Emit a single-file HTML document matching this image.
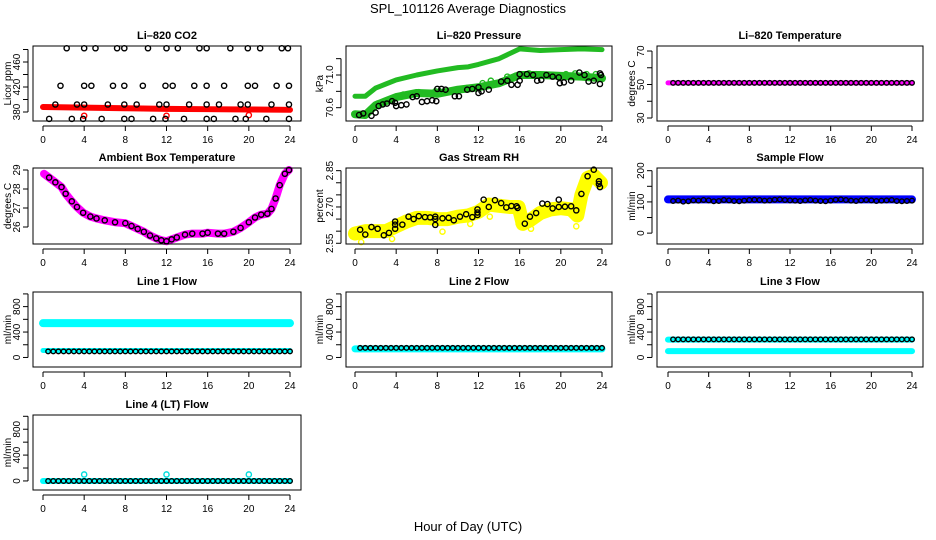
<!DOCTYPE html>
<html><head><meta charset="utf-8"><title>SPL_101126 Average Diagnostics</title>
<style>
html,body{margin:0;padding:0;background:#fff;}
svg{display:block;font-family:"Liberation Sans",Arial,sans-serif;}
</style></head>
<body>
<svg id="chart" width="936" height="540" viewBox="0 0 936 540">
<rect x="0" y="0" width="936" height="540" fill="#fff"/>
<text x="468" y="13" text-anchor="middle" font-size="13">SPL_101126  Average Diagnostics</text>
<text x="468" y="531" text-anchor="middle" font-size="13">Hour of Day (UTC)</text>
</svg>
<script>
// ---------- data ----------
const HRS = [0.5,1,1.5,2,2.5,3,3.5,4,4.5,5,5.5,6,6.5,7,7.5,8,8.5,9,9.5,10,10.5,11,11.5,12,12.5,13,13.5,14,14.5,15,15.5,16,16.5,17,17.5,18,18.5,19,19.5,20,20.5,21,21.5,22,22.5,23,23.5,24];
const xTicks = [0,4,8,12,16,20,24];

// CO2
const co2TopH = [2.3,4.0,5.1,7.2,7.9,10.2,12,13.1,15.2,15.9,18.2,19.9,21.1,23.2,23.8];
const co2TopV = 482;
const co2MidH = [1.7,4,4.7,6.8,7.9,9.7,11.9,12.6,14.7,15.9,17.6,19.9,20.6,22.7,23.9];
const co2MidV = 422;
const co2LowH = [1.2,3.3,4,6.3,7.9,9.1,11.3,12,14.2,15.9,17.1,19.2,19.9,22.2,23.9];
const co2LowV = 392;
const co2BotH = [0.6,2.8,3.9,5.7,7.9,8.6,10.7,11.9,13.7,15.9,16.6,18.7,19.7,21.7,23.9];
const co2BotV = 369;
const co2RedH = [0,4,8,12,16,20,24];
const co2RedV = [388,387,386,385,384.5,384,383.5];
const co2RedOutH = [4,12,20];
const co2RedOutV = [374,374,375];

// Pressure
const presHiH = [0,1,2,3,4,6,8,10,11,12,14,16,18,20,22,24];
const presHiV = [70.74,70.74,70.84,70.89,70.94,71.0,71.05,71.09,71.1,71.13,71.2,71.32,71.3,71.31,71.32,71.31];
const presLoH = [0,1,2,3,4,6,8,10,12,14,16,18,20,22,24];
const presLoV = [70.52,70.51,70.63,70.68,70.73,70.78,70.77,70.82,70.85,70.9,71.0,71.0,70.99,70.98,70.96];
const presBlkH = [0.4,0.8,1.6,2.0,2.3,2.7,3.1,3.6,3.9,4.0,4.5,5.0,5.6,6.0,6.5,7.0,7.5,7.9,8.0,8.4,8.8,9.7,10.1,10.9,11.4,12,12,12.3,13,14.2,14.8,15.2,15.8,16,16,16.7,17.3,17.7,18.1,18.6,19.2,19.8,19.9,20.3,21,21.8,22.3,22.7,23.2,23.8,23.8,23.9];
const presBlkV = [70.51,70.53,70.5,70.54,70.62,70.64,70.65,70.68,70.66,70.62,70.63,70.64,70.73,70.74,70.67,70.68,70.69,70.68,70.83,70.83,70.82,70.74,70.74,70.82,70.83,70.85,70.78,70.8,70.82,70.92,70.93,70.88,70.88,70.93,71.01,71.01,71.0,70.93,70.94,71.0,70.98,70.97,70.9,70.91,70.93,71.03,71.0,70.92,70.93,71.02,70.89,71.0];
const presGrnH = [2.2,2.6,4.3,4.7,6.2,7.8,8.2,9.4,10.9,12.4,13.2,14.8,15.6,16.9,17.6,19.0,20.5,21.4,22.5,23.4];
const presGrnV = [70.65,70.66,70.74,70.76,70.79,70.8,70.8,70.81,70.84,70.9,70.93,70.98,70.99,71.02,71.01,71.0,71.01,71.02,71.01,71.01];

// Li-820 temperature
const ltempV = 51;

// Ambient box temperature
const ambH = [0.1,0.6,1.2,1.8,2.2,2.8,3.3,3.9,4.6,5.2,6,7,8,8.6,9.2,9.8,10.4,11,11.5,12,12.5,13,13.8,14.5,15.5,16,17,17.6,18.5,19.2,20,20.6,21.2,21.8,22.2,22.6,23,23.5,23.9];
const ambV = [28.8,28.6,28.35,28.1,27.75,27.35,27.05,26.75,26.55,26.45,26.35,26.25,26.2,26.05,25.9,25.75,25.55,25.4,25.3,25.25,25.35,25.45,25.6,25.65,25.65,25.7,25.65,25.65,25.75,25.95,26.25,26.5,26.65,26.7,26.95,27.5,28.2,28.8,29.0];

// Gas stream RH
const rhBandH = [0,1,2,3,4,5,6,7,8,9,10,11,12,13,14,15,15.9,16.3,17,18,19,20,21,21.6,22,22.6,23.2,23.9];
const rhBandV = [2.59,2.6,2.6,2.6,2.62,2.64,2.655,2.655,2.65,2.65,2.66,2.665,2.68,2.71,2.705,2.7,2.7,2.63,2.645,2.675,2.69,2.695,2.69,2.665,2.75,2.82,2.83,2.8];
const rhBlkH = [0.5,1,1.6,2.2,2.8,3.3,3.9,3.9,3.9,4.6,5.2,5.7,6.2,6.8,7.3,7.8,7.8,7.8,8.5,9.1,9.6,10.2,10.8,11.4,11.9,11.9,11.9,12.5,13,13.6,14.2,14.7,15.2,15.7,15.8,16.5,17,17.6,18.2,18.7,19.2,19.8,19.8,20.4,21,21.5,22,22.6,23.2,23.7,23.7,23.8];
const rhBlkV = [2.606,2.586,2.617,2.61,2.583,2.593,2.64,2.627,2.61,2.627,2.66,2.65,2.662,2.658,2.657,2.66,2.65,2.626,2.653,2.655,2.645,2.66,2.67,2.658,2.69,2.677,2.667,2.73,2.70,2.728,2.716,2.698,2.704,2.703,2.696,2.631,2.66,2.675,2.714,2.712,2.694,2.73,2.70,2.701,2.703,2.686,2.754,2.827,2.854,2.806,2.795,2.782];
const rhYelH = [0.6,3.6,8.5,11.2,13.1,15.9,17.1,21.5];
const rhYelV = [2.555,2.568,2.598,2.63,2.66,2.63,2.61,2.62];

// Sample flow
const sfBlueV = 108;
const sfBlkV = [103,104,101,102,105,104,106,105,102,103,106,105,103,102,104,106,107,106,104,105,107,108,106,105,104,103,105,106,104,103,102,104,107,108,106,104,103,105,106,105,103,104,105,106,103,102,103,104];

// Line flows
const l1CyanHi = 540, l1CyanLo = 110, l1Blk = 95;
const l2Cyan = 135, l2Blk = 150;
const l3CyanHi = 280, l3CyanLo = 100, l3Blk = 285;
const l4Cyan = 0, l4Blk = 0;
const l4OutH = [4,12,20];
const l4OutV = [100,100,100];

// ---------- drawing ----------
const NS = 'http://www.w3.org/2000/svg';
const svg = document.getElementById('chart');
function el(tag, parent){ const e=document.createElementNS(NS,tag); parent.appendChild(e); return e; }

const COLS = [{l:33,r:301,x0:43,x24:290,yt:8},{l:346,r:612,x0:355,x24:602,yt:320},{l:657,r:923,x0:668,x24:912,yt:632}];
const ROWS = [{t:46,b:121},{t:168,b:244},{t:292,b:367},{t:415,b:490}];

function panel(name, title, col, row, ymin, ymax, yticks, ylabels, ytitle){
  const C=COLS[col], R=ROWS[row];
  const g=el('g',svg);
  
  
  const sx=h=>C.x0+(C.x24-C.x0)*h/24;
  const sy=v=>R.b-(v-ymin)/(ymax-ymin)*(R.b-R.t);
  const plot=el('g',g);
  
  
  const box=el('rect',g);
  box.setAttribute('x',C.l);box.setAttribute('y',R.t);box.setAttribute('width',C.r-C.l);box.setAttribute('height',R.b-R.t);
  box.setAttribute('fill','none');box.setAttribute('stroke','#000');box.setAttribute('stroke-width','1');
  
  
  const t=el('text',g);
  t.setAttribute('x',(C.l+C.r)/2);t.setAttribute('y',R.t-7);t.setAttribute('text-anchor','middle');
  t.setAttribute('font-size','11');t.setAttribute('font-weight','bold');t.textContent=title;
  
  
  const xa=el('g',g);
  
  
  let p=el('line',xa);p.setAttribute('x1',sx(0));p.setAttribute('x2',sx(24));p.setAttribute('y1',R.b+5);p.setAttribute('y2',R.b+5);p.setAttribute('stroke','#000');
  xTicks.forEach(h=>{
    const l=el('line',xa);l.setAttribute('x1',sx(h));l.setAttribute('x2',sx(h));l.setAttribute('y1',R.b+5);l.setAttribute('y2',R.b+10);l.setAttribute('stroke','#000');
    const tx=el('text',xa);tx.setAttribute('x',sx(h));tx.setAttribute('y',R.b+22);tx.setAttribute('text-anchor','middle');tx.setAttribute('font-size','10');tx.textContent=h;
    
    
  });
  const ya=el('g',g);
  
  
  p=el('line',ya);p.setAttribute('x1',C.l-5);p.setAttribute('x2',C.l-5);p.setAttribute('y1',sy(yticks[0]));p.setAttribute('y2',sy(yticks[yticks.length-1]));p.setAttribute('stroke','#000');
  yticks.forEach(v=>{
    const l=el('line',ya);l.setAttribute('x1',C.l-10);l.setAttribute('x2',C.l-5);l.setAttribute('y1',sy(v));l.setAttribute('y2',sy(v));l.setAttribute('stroke','#000');
  });
  ylabels.forEach(s=>{
    const v=parseFloat(s);
    const tx=el('text',ya);tx.setAttribute('transform','translate('+(C.l-13)+','+sy(v)+') rotate(-90)');
    tx.setAttribute('text-anchor','middle');tx.setAttribute('font-size','10');tx.textContent=s;
    
    
  });
  const yt=el('text',g);
  yt.setAttribute('transform','translate('+(C.yt+3)+','+((R.t+R.b)/2)+') rotate(-90)');
  yt.setAttribute('text-anchor','middle');yt.setAttribute('font-size','10');yt.textContent=ytitle;
  
  
  return {sx,sy,plot,name};
}
function band(P, hs, vs, color, w, nm){
  const pl=el('polyline',P.plot);
  pl.setAttribute('points', hs.map((h,i)=>P.sx(h)+','+P.sy(vs[i])).join(' '));
  pl.setAttribute('fill','none');pl.setAttribute('stroke',color);pl.setAttribute('stroke-width',w);
  pl.setAttribute('stroke-linejoin','round');pl.setAttribute('stroke-linecap','round');
  
  
}
function pts(P, hs, vs, color, nm, r){
  hs.forEach((h,i)=>{
    const c=el('circle',P.plot);
    c.setAttribute('cx',P.sx(h));c.setAttribute('cy',P.sy(vs[i]));c.setAttribute('r',r||2.6);
    c.setAttribute('fill','none');c.setAttribute('stroke',color);c.setAttribute('stroke-width','1.4');
    
    
  });
}
const flat=(hs,v)=>hs.map(()=>v);

let P=panel('co2-panel','Li\u2013820 CO2',0,0,365.6,485.6,[380,400,420,440,460,480],['380','420','460'],'Licor ppm');
band(P,co2RedH,co2RedV,'#ff0000',6,'co2-red-series');
pts(P,co2RedOutH,co2RedOutV,'#ff0000','co2-red-point');
pts(P,co2TopH,flat(co2TopH,co2TopV),'#000','co2-point');
pts(P,co2MidH,flat(co2MidH,co2MidV),'#000','co2-point');
pts(P,co2LowH,flat(co2LowH,co2LowV),'#000','co2-point');
pts(P,co2BotH,flat(co2BotH,co2BotV),'#000','co2-point');

P=panel('pressure-panel','Li\u2013820 Pressure',1,0,70.437,71.355,[70.6,70.8,71.0,71.2],['70.6','71.0'],'kPa');
band(P,presHiH,presHiV,'#22bb22',5,'pressure-upper-green-series');
band(P,presLoH,presLoV,'#22bb22',8,'pressure-lower-green-series');
pts(P,presGrnH,presGrnV,'#22bb22','pressure-green-point');
pts(P,presBlkH,presBlkV,'#000','pressure-point');

P=panel('li820-temp-panel','Li\u2013820 Temperature',2,0,28.2,73,[30,40,50,60,70],['30','50','70'],'degrees C');
band(P,[0,24],[ltempV,ltempV],'#ff00ff',5,'li820-temp-magenta-series');
pts(P,HRS,flat(HRS,ltempV),'#000','li820-temp-point',2.3);

P=panel('ambient-temp-panel','Ambient Box Temperature',0,1,25.105,29.105,[26,27,28,29],['26','27','28','29'],'degrees C');
band(P,ambH,ambV,'#ff00ff',8,'ambient-magenta-series');
pts(P,ambH.slice(1),ambV.slice(1),'#000','ambient-point');

P=panel('rh-panel','Gas Stream RH',1,1,2.547,2.861,[2.55,2.6,2.65,2.7,2.75,2.8,2.85],['2.55','2.70','2.85'],'percent');
band(P,rhBandH,rhBandV,'#ffff00',14,'rh-yellow-series');
pts(P,rhYelH,rhYelV,'#ffff00','rh-yellow-point');
pts(P,rhBlkH,rhBlkV,'#000','rh-point');

P=panel('sample-flow-panel','Sample Flow',2,1,-34.8,208.6,[0,50,100,150,200],['0','100','200'],'ml/min');
band(P,[0,24],[sfBlueV,sfBlueV],'#0000ff',8,'sample-flow-blue-series');
pts(P,HRS,sfBlkV,'#000','sample-flow-point',2.3);

const FT=[0,200,400,600,800,1000], FL=['0','400','800'];
P=panel('line1-flow-panel','Line 1 Flow',0,2,-150,1030,FT,FL,'ml/min');
band(P,[0,24],[l1CyanHi,l1CyanHi],'#00ffff',8,'line1-cyan-upper-series');
band(P,[0,24],[l1CyanLo,l1CyanLo],'#00ffff',5,'line1-cyan-lower-series');
pts(P,HRS,flat(HRS,l1Blk),'#000','line1-point',2.3);

P=panel('line2-flow-panel','Line 2 Flow',1,2,-150,1030,FT,FL,'ml/min');
band(P,[0,24],[l2Cyan,l2Cyan],'#00ffff',7,'line2-cyan-series');
pts(P,HRS,flat(HRS,l2Blk),'#000','line2-point',2.3);

P=panel('line3-flow-panel','Line 3 Flow',2,2,-150,1030,FT,FL,'ml/min');
band(P,[0,24],[l3CyanHi,l3CyanHi],'#00ffff',6,'line3-cyan-upper-series');
band(P,[0,24],[l3CyanLo,l3CyanLo],'#00ffff',6,'line3-cyan-lower-series');
pts(P,HRS,flat(HRS,l3Blk),'#000','line3-point',2.3);

P=panel('line4-flow-panel','Line 4 (LT) Flow',0,3,-140,1020,FT,FL,'ml/min');
band(P,[0,24],[l4Cyan,l4Cyan],'#00ffff',6,'line4-cyan-series');
pts(P,l4OutH,l4OutV,'#00dddd','line4-cyan-point');
pts(P,HRS,flat(HRS,l4Blk),'#000','line4-point',2.3);
</script>
</body></html>
